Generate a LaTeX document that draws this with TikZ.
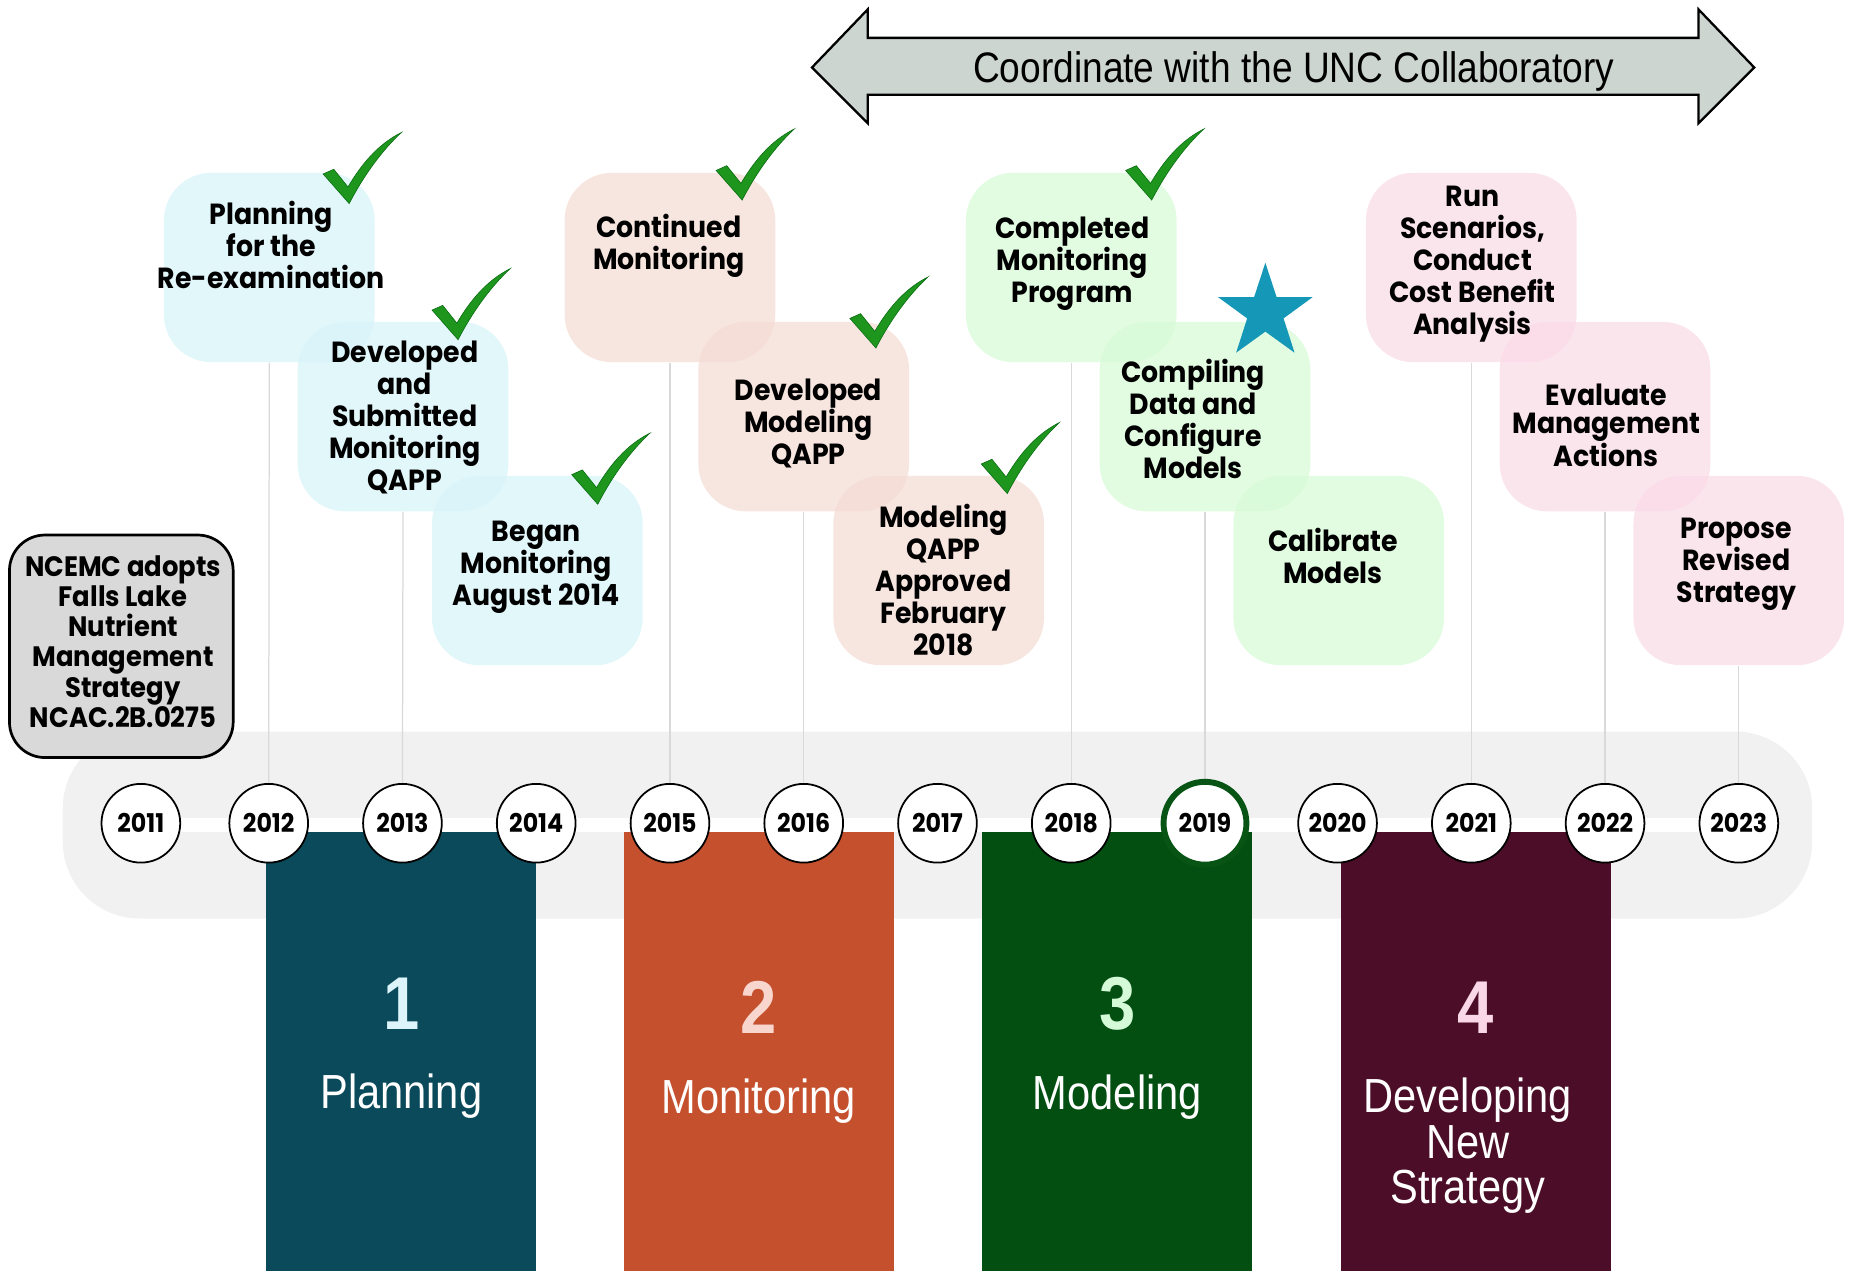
\documentclass[tikz,border=0pt]{standalone}
\usepackage{fontspec}
\usepackage{tikz}
\usetikzlibrary{positioning}
\usetikzlibrary{shapes.geometric}
\usetikzlibrary{backgrounds}
\newfontfamily\cardfont{Poppins}[FakeStretch=0.92]
\newfontfamily\arialfont{Liberation Sans}[FakeStretch=0.87]

\definecolor{cardcyan}{RGB}{214,243,248}
\definecolor{cardbeige}{RGB}{244,219,211}
\definecolor{cardgreen}{RGB}{214,251,214}
\definecolor{cardpink}{RGB}{249,218,230}
\definecolor{bandgray}{RGB}{241,241,241}
\definecolor{linegray}{RGB}{217,217,217}
\definecolor{phaseteal}{RGB}{11,74,90}
\definecolor{phaseorange}{RGB}{196,80,46}
\definecolor{phasegreen}{RGB}{3,79,18}
\definecolor{phasemaroon}{RGB}{75,13,39}
\definecolor{numcyan}{RGB}{221,245,250}
\definecolor{numpink}{RGB}{248,214,205}
\definecolor{numgreen}{RGB}{212,250,215}
\definecolor{numrose}{RGB}{249,215,230}
\definecolor{arrowgray}{RGB}{205,213,209}
\definecolor{tickgreen}{RGB}{30,150,30}
\definecolor{tickedge}{RGB}{12,110,20}
\definecolor{starblue}{RGB}{21,151,184}
\definecolor{ringgreen}{RGB}{8,84,20}
\definecolor{boxgray}{RGB}{217,217,217}

\tikzstyle{cardtext}=[align=center,inner sep=0,yshift=-0.6mm,font=\cardfont\bfseries\fontsize{14}{15.4}\selectfont]
\tikzstyle{year}=[circle,draw,fill=white,line width=.85pt,minimum size=13.3mm,inner sep=0,font=\cardfont\bfseries\fontsize{12.4}{13}\selectfont]
\tikzstyle{phase}=[rectangle,minimum width=45.6mm,minimum height=74.2mm,inner sep=0]
\tikzstyle{phnum}=[inner sep=0,font=\arialfont\bfseries\fontsize{36}{38}\selectfont]
\tikzstyle{phname}=[align=center,inner sep=0,yshift=-0.6mm,text=white,font=\arialfont\fontsize{23}{22}\selectfont]
\tikzstyle{link}=[draw=linegray,line width=.6pt]

\begin{document}
\begin{tikzpicture}[
  x=0.2mm, y=-0.2mm,
  card/.style={rectangle,rounded corners=8mm,minimum width=35.6mm,minimum height=32mm,
    inner sep=0,fill=#1,fill opacity=.7},
  current/.style={draw=ringgreen,line width=1mm,minimum size=14mm},
  tick/.pic={
    \filldraw[fill=tickgreen,draw=tickedge,line width=.3pt]
      (0,35) -- (9,31) -- (21,46) .. controls (35,22) and (50,8) .. (66,0)
      .. controls (50,15) and (35,35) .. (22,60) -- cycle;
  },
]
\useasboundingbox (0,0) rectangle (1568,1074);

% timeline band
\begin{scope}[on background layer]
  \fill[bandgray,rounded corners=13mm] (53,618) rectangle (1531,776);
  \fill[white] (119,691) rectangle (1469,703);
\end{scope}

% phases
\node[phase,fill=phaseteal] (ph1) at (339,888.5) {};
\node[phase,fill=phaseorange] (ph2) at (641,888.5) {};
\node[phase,fill=phasegreen] (ph3) at (944,888.5) {};
\node[phase,fill=phasemaroon] (ph4) at (1247,888.5) {};
\node[phnum,text=numcyan] (num1) at (339,848) {1};
\node[phnum,text=numpink] (num2) at (641,851) {2};
\node[phnum,text=numgreen] (num3) at (944,848) {3};
\node[phnum,text=numrose] (num4) at (1247,851) {4};
\node[phname] (name1) at (339,923) {Planning};
\node[phname] (name2) at (641,927) {Monitoring};
\node[phname] (name3) at (944,924) {Modeling};
\node[phname] (name4) at (1240,965) {Developing\\New\\Strategy};

% years
\foreach \yr/\xx in {2011/119,2012/227,2013/340,2014/453,2015/566,2016/679,
                     2017/792,2018/905,2020/1130,2021/1243,2022/1356,2023/1469}
  \node[year] (y\yr) at (\xx,695.5) {\yr};
\node[year,current] (y2019) at (1018,695.5) {2019};

% cards
\foreach \n/\xx/\yy/\col in {1/227.5/226/cardcyan,2/340.5/352/cardcyan,3/454/482/cardcyan,
                             4/566/226/cardbeige,5/679/352/cardbeige,6/793/482/cardbeige,
                             7/905/226/cardgreen,8/1018/352/cardgreen,9/1131/482/cardgreen,
                             10/1243/226/cardpink,11/1356/352/cardpink,12/1469/482/cardpink}
  \node[card=\col] (p\n) at (\xx,\yy) {};

\node[cardtext] (t1) at (229,204) {Planning\\for the\\Re-examination};
\node[cardtext] (t2) at (342,350) {Developed\\and\\Submitted\\Monitoring\\QAPP};
\node[cardtext] (t3) at (453,476) {Began\\Monitoring\\August 2014};
\node[cardtext] (t4) at (565,204.5) {Continued\\Monitoring};
\node[cardtext] (t5) at (683,355) {Developed\\Modeling\\QAPP};
\node[cardtext] (t6) at (797,487) {Modeling\\QAPP\\Approved\\February\\2018};
\node[cardtext] (t7) at (906,219.5) {Completed\\Monitoring\\Program};
\node[cardtext] (t8) at (1008,351) {Compiling\\Data and\\Configure\\Models};
\node[cardtext] (t9) at (1126,466.5) {Calibrate\\Models};
\node[cardtext] (t10) at (1244,220) {Run\\Scenarios,\\Conduct\\Cost Benefit\\Analysis};
\node[cardtext,font=\cardfont\bfseries\fontsize{14}{13.4}\selectfont] (t11) at (1357,356.5) {Evaluate\\Management\\Actions};
\node[cardtext] (t12) at (1467,473.5) {Propose\\Revised\\Strategy};

% links card -> year
\begin{scope}[on background layer]
  \foreach \a/\b in {p1/y2012,p2/y2013,p4/y2015,p5/y2016,p7/y2018,
                     p8/y2019,p10/y2021,p11/y2022,p12/y2023}
    \draw[link] (\a.south) -- (\b.north);
\end{scope}

% done marks
\pic at (273,112) {tick};
\pic at (365,227) {tick};
\pic at (483,366) {tick};
\pic at (605,109) {tick};
\pic at (718,234) {tick};
\pic at (829,357) {tick};
\pic at (951,109) {tick};
\node[star,star points=5,star point ratio=2.6,fill=starblue,minimum size=16.8mm,inner sep=0] (now) at (1069,264) {};

% rule box
\node[rectangle,rounded corners=6mm,draw,line width=1.3pt,fill=boxgray,
      minimum width=37.8mm,minimum height=37.6mm] (rule) at (102.5,546) {};
\node[cardtext,font=\cardfont\bfseries\fontsize{13.5}{14.5}\selectfont] (ruletext) at (104,539)
  {NCEMC adopts\\Falls Lake\\Nutrient\\Management\\Strategy\\NCAC.2B.0275};

% collaboratory arrow
\filldraw[fill=arrowgray,draw=black,line width=1.1pt]
  (686,57) -- (733,8) -- (733,32) -- (1435,32) -- (1435,8) -- (1482,57)
  -- (1435,104) -- (1435,80) -- (733,80) -- (733,104) -- cycle;
\node[inner sep=0,yshift=-0.6mm,font=\arialfont\fontsize{20.5}{22}\selectfont] (collab) at (1093,57)
  {Coordinate with the UNC Collaboratory};
\end{tikzpicture}
\end{document}
